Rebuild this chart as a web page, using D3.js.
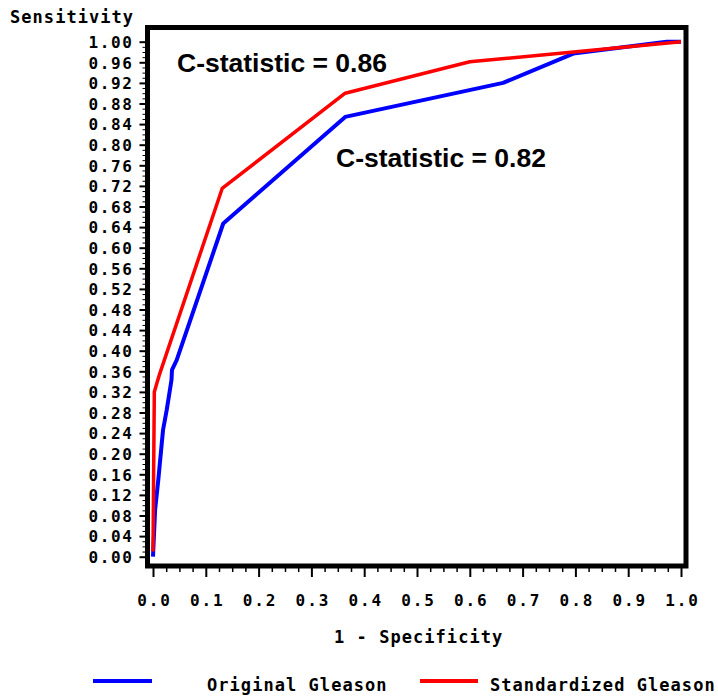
<!DOCTYPE html>
<html>
<head>
<meta charset="utf-8">
<script src="https://cdn.jsdelivr.net/npm/d3@7"></script>
<style>
  html, body { margin: 0; padding: 0; background: #fff; }
  svg { display: block; }
  .mono { font-family: "DejaVu Sans Mono", "Liberation Mono", monospace; font-weight: bold; fill: #000; }
</style>
</head>
<body>
<svg id="chart" width="718" height="698"></svg>
<script>
// ---- data ----
const originalX = [0, 0.004, 0.010, 0.019, 0.026, 0.035, 0.036, 0.045, 0.133, 0.364, 0.663, 0.796, 0.973, 1.0];
const originalY = [0, 0.091, 0.149, 0.246, 0.285, 0.343, 0.363, 0.382, 0.647, 0.854, 0.920, 0.977, 1.0, 1.0];
const standardizedX = [0, 0.0025, 0.007, 0.013, 0.131, 0.364, 0.600, 1.0];
const standardizedY = [0.01, 0.32, 0.336, 0.356, 0.715, 0.900, 0.961, 1.0];
const seriesNames = ["Original Gleason", "Standardized Gleason"];
const cStatLabels = ["C-statistic = 0.86", "C-statistic = 0.82"];
const xTickValues = [0, 0.1, 0.2, 0.3, 0.4, 0.5, 0.6, 0.7, 0.8, 0.9, 1.0];
const yTickValues = d3.range(0, 26).map(i => +(i * 0.04).toFixed(2));
const xTitle = "1 - Specificity";
const yTitle = "Sensitivity";

// ---- layout ----
const svg = d3.select("#chart");
const x = d3.scaleLinear().domain([0, 1]).range([153, 681]);
const y = d3.scaleLinear().domain([0, 1]).range([556.7, 41.7]);
const frame = { left: 147.5, top: 27.5, right: 686, bottom: 566 };

// y axis (major)
const yAxis = d3.axisLeft(y).tickValues(yTickValues).tickSize(6).tickFormat(d3.format(".2f"));
const gy = svg.append("g").attr("transform", `translate(${frame.left - 2},0)`).call(yAxis);
gy.select(".domain").remove();
gy.selectAll(".tick line").attr("stroke", "#000").attr("stroke-width", 2);
gy.selectAll(".tick text").attr("class", "mono").attr("font-size", 16)
  .style("letter-spacing", "1.6px").attr("x", -12).attr("dy", 5.8);

// y axis (minor)
const yMinor = d3.range(0, 101).map(i => i / 100).filter(v => Math.round(v * 100) % 4 !== 0);
const gym = svg.append("g").attr("transform", `translate(${frame.left - 2},0)`)
  .call(d3.axisLeft(y).tickValues(yMinor).tickSize(3).tickFormat(""));
gym.select(".domain").remove();
gym.selectAll(".tick line").attr("stroke", "#000").attr("stroke-width", 1);

// x axis (major)
const xAxis = d3.axisBottom(x).tickValues(xTickValues).tickSize(9).tickFormat(d3.format(".1f"));
const gx = svg.append("g").attr("transform", `translate(0,${frame.bottom + 2})`).call(xAxis);
gx.select(".domain").remove();
gx.selectAll(".tick line").attr("stroke", "#000").attr("stroke-width", 2);
gx.selectAll(".tick text").attr("class", "mono").attr("font-size", 16)
  .style("letter-spacing", "1.9px").attr("y", 38).attr("dy", null).attr("dx", 1);

// x axis (minor)
const xMinor = d3.range(0, 41).map(i => i / 40).filter(v => Math.round(v * 40) % 4 !== 0);
const gxm = svg.append("g").attr("transform", `translate(0,${frame.bottom + 2})`)
  .call(d3.axisBottom(x).tickValues(xMinor).tickSize(4).tickFormat(""));
gxm.select(".domain").remove();
gxm.selectAll(".tick line").attr("stroke", "#000").attr("stroke-width", 1.5);

// frame
svg.append("rect")
  .attr("x", frame.left).attr("y", frame.top)
  .attr("width", frame.right - frame.left).attr("height", frame.bottom - frame.top)
  .attr("fill", "none").attr("stroke", "#000").attr("stroke-width", 5);

// curves
const line = d3.line().x(d => x(d[0])).y(d => y(d[1]));
const originalPts = originalX.map((v, i) => [v, originalY[i]]);
const standardizedPts = standardizedX.map((v, i) => [v, standardizedY[i]]);
svg.append("path").datum(originalPts).attr("d", line)
  .attr("fill", "none").attr("stroke", "#0000FF").attr("stroke-width", 4).attr("stroke-linejoin", "round");
svg.append("path").datum(standardizedPts).attr("d", line)
  .attr("fill", "none").attr("stroke", "#FF0000").attr("stroke-width", 3.5).attr("stroke-linejoin", "round");

// C-statistic labels
svg.append("text").attr("x", 177).attr("y", 71.5)
  .attr("font-family", "Liberation Sans, Arial, sans-serif").attr("font-weight", "bold")
  .attr("font-size", 26.5).text(cStatLabels[0]);
svg.append("text").attr("x", 336).attr("y", 166.5)
  .attr("font-family", "Liberation Sans, Arial, sans-serif").attr("font-weight", "bold")
  .attr("font-size", 26.5).text(cStatLabels[1]);

// axis titles
svg.append("text").attr("class", "mono").attr("font-size", 17).style("letter-spacing", "1.05px")
  .attr("x", 10).attr("y", 22.5).text(yTitle);
svg.append("text").attr("class", "mono").attr("font-size", 17).style("letter-spacing", "1.05px")
  .attr("x", 334).attr("y", 643).text(xTitle);

// legend
const legendY = 681;
svg.append("line").attr("x1", 93).attr("x2", 152).attr("y1", legendY).attr("y2", legendY)
  .attr("stroke", "#0000FF").attr("stroke-width", 4);
svg.append("text").attr("class", "mono").attr("font-size", 17).style("letter-spacing", "1.05px")
  .attr("x", 207).attr("y", 690.5).text(seriesNames[0]);
svg.append("line").attr("x1", 420).attr("x2", 478).attr("y1", legendY).attr("y2", legendY)
  .attr("stroke", "#FF0000").attr("stroke-width", 4);
svg.append("text").attr("class", "mono").attr("font-size", 17).style("letter-spacing", "1.05px")
  .attr("x", 490).attr("y", 690.5).text(seriesNames[1]);
</script>
</body>
</html>
